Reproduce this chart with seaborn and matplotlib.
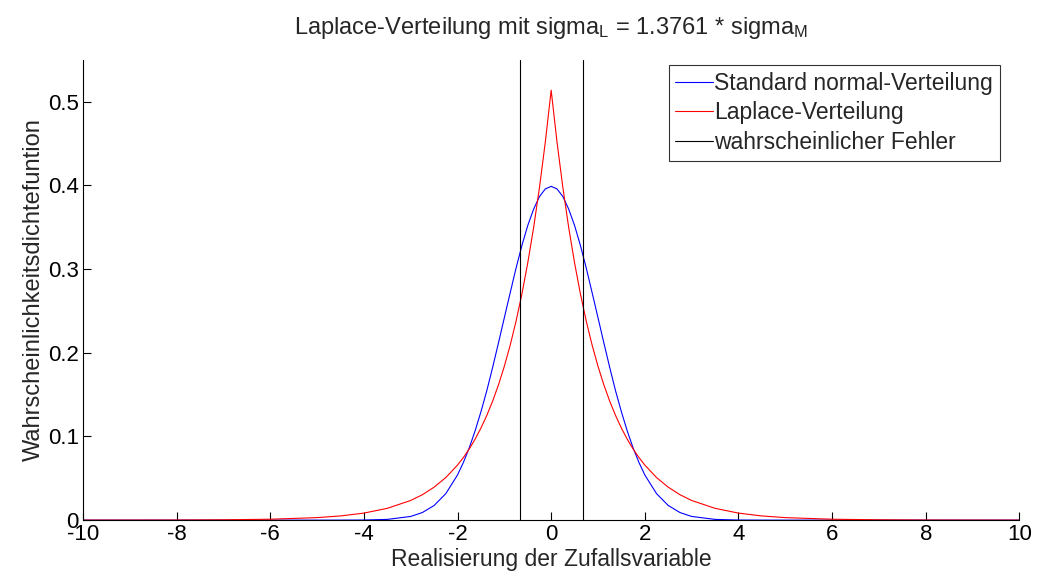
import matplotlib
matplotlib.use("Agg")
import matplotlib.pyplot as plt
import seaborn as sns
import pandas as pd

# values
x_vals = [-10, -9, -8, -7, -6, -5, -4.5, -4, -3.5, -3, -2.75, -2.5, -2.25,
          -2, -1.875, -1.75, -1.625, -1.5, -1.375, -1.25, -1.125, -1, -0.875, -0.75, -0.625,
          -0.5, -0.375, -0.25, -0.125, 0, 0.125, 0.25, 0.375, 0.5, 0.625, 0.75, 0.875,
          1, 1.125, 1.25, 1.375, 1.5, 1.625, 1.75, 1.875, 2,
          2.25, 2.5, 2.75, 3, 3.5, 4, 4.5, 5, 6, 7, 8, 9, 10]
normal_vals = [0, 0, 0, 0, 0, 0, 0.00002, 0.00013, 0.00087, 0.0044, 0.0091, 0.0175, 0.0317,
               0.0540, 0.0689, 0.0863, 0.1066, 0.1295, 0.1546, 0.1826, 0.2119, 0.2420, 0.2717,
               0.3011, 0.3282, 0.3521, 0.3716, 0.3867, 0.3958, 0.3989, 0.3958, 0.3867, 0.3716,
               0.3521, 0.3282, 0.3011, 0.2717, 0.2420, 0.2119, 0.1826, 0.1546, 0.1295, 0.1066,
               0.0863, 0.0689, 0.0540,
               0.0317, 0.0175, 0.0091, 0.0044, 0.00087, 0.00013, 0.00002, 0, 0, 0, 0, 0, 0]
laplace_vals = [0.00002, 0.00005, 0.00014, 0.00038, 0.00108, 0.0030, 0.0050, 0.0084, 0.0141,
                0.0235, 0.0304, 0.0394, 0.0509,
                0.0658, 0.0748, 0.0850, 0.0967, 0.1100, 0.1251, 0.1422, 0.1617, 0.1839, 0.2091,
                0.2377, 0.2703, 0.3074, 0.3495, 0.3974, 0.4518, 0.5138, 0.4518, 0.3974, 0.3495,
                0.3074, 0.2703, 0.2377, 0.2091, 0.1839, 0.1617, 0.1422, 0.1251, 0.1100, 0.0967,
                0.0850, 0.0748, 0.0658,
                0.0509, 0.0394, 0.0304, 0.0235, 0.0141, 0.0084, 0.0050, 0.0030, 0.00108,
                0.00038, 0.00014, 0.00005, 0.00002]
probable_error = [-0.6745, 0.6745]
x_ticks = [-10, -8, -6, -4, -2, 0, 2, 4, 6, 8, 10]
y_ticks = [0, 0.1, 0.2, 0.3, 0.4, 0.5]
y_tick_labels = ["0", "0.1", "0.2", "0.3", "0.4", "0.5"]
series_names = ["Standard normal-Verteilung", "Laplace-Verteilung", "wahrscheinlicher Fehler"]

sns.set_style("white")
plt.rcParams['font.family'] = ['Liberation Sans', 'DejaVu Sans']
plt.rcParams['mathtext.fontset'] = 'custom'
plt.rcParams['mathtext.rm'] = 'Liberation Sans'
plt.rcParams['mathtext.it'] = 'Liberation Sans'

df = pd.DataFrame({"x": x_vals, "normal": normal_vals, "laplace": laplace_vals})

fig = plt.figure(figsize=(10.37, 5.76), dpi=100)
ax = fig.add_axes([0.080, 0.097, 0.903, 0.799])

sns.lineplot(data=df, x="x", y="normal", ax=ax, color=(0, 0, 1), linewidth=0.8,
             label=series_names[0])
sns.lineplot(data=df, x="x", y="laplace", ax=ax, color=(1, 0, 0), linewidth=0.8,
             label=series_names[1])
for i, pe in enumerate(probable_error):
    ax.axvline(pe, color="black", linewidth=0.8, label=series_names[2] if i == 0 else None)

ax.set_xlim(-10, 10)
ax.set_ylim(0, 0.55)
ax.set_xticks(x_ticks)
ax.set_xticklabels([str(t) for t in x_ticks])
ax.set_yticks(y_ticks)
ax.set_yticklabels(y_tick_labels)

for s in ["top", "right"]:
    ax.spines[s].set_visible(False)
for s in ["left", "bottom"]:
    ax.spines[s].set_color("black")
    ax.spines[s].set_linewidth(0.8)
ax.tick_params(axis="both", direction="in", length=6, width=0.8, colors="black",
               labelsize=16, left=True, bottom=True)
ax.tick_params(axis="x", pad=3)
ax.tick_params(axis="y", pad=3)

ax.set_xlabel("Realisierung der Zufallsvariable", fontsize=16.5, labelpad=2)
ax.set_ylabel("Wahrscheinlichkeitsdichtefuntion", fontsize=17, labelpad=2)
ax.set_title(r"Laplace-Verteilung mit sigma$_\mathregular{L}$ = 1.3761 * sigma$_\mathregular{M}$",
             fontsize=17, pad=19)

leg = ax.legend(loc="upper right", bbox_to_anchor=(1000 / 1037, 1 - 65 / 576),
                bbox_transform=fig.transFigure, fontsize=16.5, frameon=True,
                fancybox=False, edgecolor="black", handlelength=1.65, handletextpad=0.05,
                borderpad=0.3, labelspacing=0.28, borderaxespad=0)
leg.get_frame().set_linewidth(0.8)

fig.savefig("out.png", dpi=100)
